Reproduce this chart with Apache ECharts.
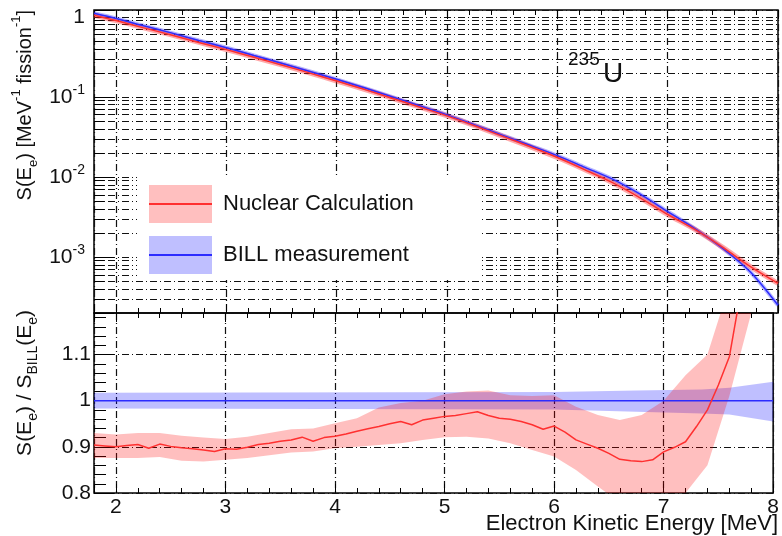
<!DOCTYPE html>
<html><head><meta charset="utf-8">
<script src="https://cdn.jsdelivr.net/npm/echarts@6/dist/echarts.min.js"></script>
<style>html,body{margin:0;padding:0;background:#fff}#c{width:782px;height:536px}</style>
</head><body><div id="c"></div>
<script>
// ---------- data ----------
const energyTop = [1.8,2.0,2.25,2.5,2.75,3.0,3.25,3.5,3.75,4.0,4.25,4.5,4.75,5.0,5.25,5.5,5.75,6.0,6.25,6.5,6.75,7.0,7.25,7.5,7.75,8.0];
const specNuclear = [1.05,0.90,0.73,0.596,0.48,0.39,0.313,0.251,0.20,0.158,0.1245,0.0966,0.075,0.058,0.0437,0.0324,0.024,0.0175,0.0123,0.0085,0.0055,0.0034,0.0022,0.00132,0.00076,0.00047];
const specBill = [1.11,0.955,0.775,0.632,0.508,0.413,0.330,0.264,0.210,0.166,0.130,0.1005,0.0775,0.0597,0.0448,0.0334,0.0249,0.0185,0.0132,0.0094,0.0061,0.0037,0.00225,0.00128,0.00065,0.00025];

const ratioE = [1.8,1.9,2.0,2.1,2.2,2.3,2.4,2.5,2.6,2.7,2.8,2.9,3.0,3.1,3.2,3.3,3.4,3.5,3.6,3.7,3.8,3.9,4.0,4.1,4.2,4.3,4.4,4.5,4.6,4.7,4.8,4.9,5.0,5.1,5.2,5.3,5.4,5.5,5.6,5.7,5.8,5.9,6.0,6.1,6.2,6.3,6.4,6.5,6.6,6.7,6.8,6.9,7.0,7.1,7.2,7.3,7.4,7.5,7.6,7.7];
const ratioNuclear = [0.904,0.902,0.900,0.903,0.905,0.897,0.906,0.901,0.898,0.896,0.893,0.890,0.896,0.895,0.899,0.905,0.908,0.912,0.915,0.921,0.912,0.920,0.923,0.928,0.934,0.939,0.944,0.950,0.955,0.948,0.958,0.962,0.966,0.968,0.972,0.976,0.968,0.962,0.960,0.955,0.948,0.938,0.945,0.932,0.915,0.906,0.897,0.886,0.873,0.870,0.868,0.872,0.889,0.899,0.911,0.944,0.980,1.034,1.095,1.230];

const nucBandE  = [1.8,2.0,2.2,2.4,2.6,2.8,3.0,3.2,3.4,3.6,3.8,4.0,4.2,4.4,4.6,4.8,5.0,5.2,5.4,5.6,5.8,6.0,6.2,6.4,6.6,6.8,7.0,7.2,7.4,7.6,7.8,7.9];
const nucBandHi = [0.930,0.927,0.930,0.930,0.924,0.920,0.917,0.922,0.930,0.938,0.940,0.951,0.962,0.985,0.995,1.000,1.014,1.020,1.022,1.012,1.010,1.012,0.987,0.969,0.958,0.969,1.000,1.055,1.100,1.250,1.300,1.300];
const nucBandLo = [0.876,0.876,0.876,0.878,0.870,0.868,0.872,0.876,0.882,0.888,0.890,0.897,0.900,0.904,0.908,0.915,0.921,0.922,0.918,0.908,0.893,0.879,0.850,0.814,0.780,0.770,0.770,0.800,0.860,1.010,1.190,1.300];

const billBandE  = [1.8,6.0,6.75,7.35,7.6,8.0];
const billBandHi = [1.017,1.019,1.022,1.024,1.028,1.041];
const billBandLo = [0.983,0.981,0.976,0.972,0.970,0.955];
const billRatioE = [1.8,8.0];
const billRatio  = [1.0,1.0];

const legendNames = ['Nuclear Calculation','BILL measurement'];

// ---------- style ----------
const FONT = '"Liberation Sans", Arial, Helvetica, sans-serif';
const INK = '#111';
const DASHDOT = [7,3,1,3];
const RED = '#ff3030', BLUE = '#2c2cff';
const RED_BAND = 'rgba(255,0,0,0.25)', BLUE_BAND = 'rgba(0,0,255,0.25)';

const isInt = v => Math.abs(v - Math.round(v)) < 1e-6;

function bandSeries(name, E, lo, hi, color) {
  return {
    type: 'custom', name, xAxisIndex: 1, yAxisIndex: 1, clip: true, silent: true, z: 2,
    itemStyle: {color},
    data: E.map((e, i) => [e, lo[i], hi[i]]),
    encode: {x: 0, y: [1, 2]},
    renderItem(params, api) {
      if (params.dataIndex !== 0) return null;
      const pts = [];
      for (let i = 0; i < E.length; i++) pts.push(api.coord([E[i], hi[i]]));
      for (let i = E.length - 1; i >= 0; i--) pts.push(api.coord([E[i], lo[i]]));
      return {type: 'polygon', shape: {points: pts}, style: {fill: color}};
    }
  };
}

const xBase = (grid, pos, labels) => ({
  type: 'value', gridIndex: grid, position: pos, min: 1.8, max: 8, splitNumber: 6,
  axisLine: {show: false},
  axisTick: {show: true, inside: true, length: 9, lineStyle: {color: '#000', width: 1}},
  minorTick: {show: true, splitNumber: 5, length: 5, lineStyle: {color: '#000', width: 1}},
  splitLine: {show: pos === 'bottom', lineStyle: {type: DASHDOT, color: INK, width: 1.2}},
  axisLabel: labels ? {show: true, margin: 4, fontSize: 21, fontFamily: FONT, color: INK,
    formatter: v => isInt(v) ? String(Math.round(v)) : ''} : {show: false}
});

const chart = echarts.init(document.getElementById('c'), null, {renderer: 'canvas'});
chart.setOption({
  animation: false,
  backgroundColor: '#fff',
  grid: [
    {left: 94, top: 10, width: 684, height: 303, show: true, borderColor: '#000', borderWidth: 1.5, backgroundColor: 'transparent'},
    {left: 94, top: 313, width: 684, height: 180, show: true, borderColor: '#000', borderWidth: 1.5, backgroundColor: 'transparent'}
  ],
  xAxis: [
    xBase(0, 'bottom', false),
    xBase(1, 'bottom', true),
    xBase(0, 'top', false),
    xBase(1, 'top', false)
  ],
  yAxis: [
    {
      type: 'log', gridIndex: 0, logBase: 10, min: 2e-4, max: 1.22,
      axisLine: {show: false},
      axisTick: {show: true, inside: true, length: 20, lineStyle: {color: '#000'}},
      minorTick: {show: true, splitNumber: 9, length: 10, lineStyle: {color: '#000'}},
      splitLine: {show: true, lineStyle: {type: DASHDOT, color: INK, width: 1}},
      minorSplitLine: {show: true, lineStyle: {type: DASHDOT, color: INK, width: 1}},
      axisLabel: {
        margin: 9, fontSize: 21, fontFamily: FONT, color: INK, lineHeight: 28,
        formatter: v => {
          const l = Math.log10(v), r = Math.round(l);
          if (Math.abs(l - r) > 1e-6) return '';
          return r === 0 ? '1' : '10{sup|' + r + '}';
        },
        rich: {sup: {fontSize: 14, fontFamily: FONT, color: INK, verticalAlign: 'top', lineHeight: 16}}
      }
    },
    {
      type: 'value', gridIndex: 1, min: 0.8, max: 1.19, interval: 0.1,
      axisLine: {show: false},
      axisTick: {show: true, inside: true, length: 20, lineStyle: {color: '#000'}},
      minorTick: {show: true, splitNumber: 5, length: 12, lineStyle: {color: '#000'}},
      splitLine: {show: true, lineStyle: {type: DASHDOT, color: INK, width: 1.2}},
      axisLabel: {
        margin: 3, fontSize: 21, fontFamily: FONT, color: INK,
        formatter: v => (Math.abs(v * 10 - Math.round(v * 10)) < 1e-6 && v < 1.15) ? String(+v.toFixed(1)) : ''
      }
    }
  ],
  legend: {
    left: 137, top: 177, orient: 'vertical', backgroundColor: '#fff',
    padding: [8, 67, 6, 12], itemWidth: 63, itemHeight: 38, itemGap: 13,
    icon: 'rect', selectedMode: false, z: 20,
    textStyle: {fontSize: 22, fontFamily: FONT, color: INK, padding: [0, 0, 0, 6]},
    data: [
      {name: legendNames[0], itemStyle: {color: RED_BAND}},
      {name: legendNames[1], itemStyle: {color: BLUE_BAND}}
    ]
  },
  graphic: [
    {type: 'line', z: 100, shape: {x1: 149, y1: 204, x2: 212, y2: 204}, style: {stroke: RED, lineWidth: 2}},
    {type: 'line', z: 100, shape: {x1: 149, y1: 255, x2: 212, y2: 255}, style: {stroke: BLUE, lineWidth: 2}},
    {type: 'text', z: 100, x: 568, y: 50, style: {text: '235', fontSize: 19, fontFamily: FONT, fill: INK, verticalAlign: 'top'}},
    {type: 'text', z: 100, x: 603, y: 88, style: {text: 'U', fontSize: 28, fontFamily: FONT, fill: INK, verticalAlign: 'bottom'}},
    {type: 'text', z: 100, x: 25, y: 10, rotation: Math.PI / 2,
      style: {text: 'S(E{sub|e}) [MeV{sup|-1} fission{sup|-1}]', fontSize: 20, fontFamily: FONT, fill: INK, align: 'right', verticalAlign: 'middle', lineHeight: 30,
        rich: {sup: {fontSize: 13, fontFamily: FONT, fill: INK, verticalAlign: 'top', lineHeight: 16}, sub: {fontSize: 13, fontFamily: FONT, fill: INK, verticalAlign: 'bottom', lineHeight: 16}}}},
    {type: 'text', z: 100, x: 25, y: 310, rotation: Math.PI / 2,
      style: {text: 'S(E{sub|e}) / S{sub|BILL}(E{sub|e})', fontSize: 21, fontFamily: FONT, fill: INK, align: 'right', verticalAlign: 'middle', lineHeight: 30,
        rich: {sub: {fontSize: 14, fontFamily: FONT, fill: INK, verticalAlign: 'bottom', lineHeight: 16}}}},
    {type: 'text', z: 100, x: 778, y: 524, style: {text: 'Electron Kinetic Energy [MeV]', fontSize: 22, fontFamily: FONT, fill: INK, align: 'right', verticalAlign: 'middle'}}
  ],
  series: [
    {type: 'line', name: 'BILL spectrum band', xAxisIndex: 0, yAxisIndex: 0, showSymbol: false, smooth: 0.3, silent: true,
      data: energyTop.map((e, i) => [e, specBill[i]]), lineStyle: {color: 'rgba(40,40,255,0.35)', width: 4}},
    {type: 'line', name: 'Nuclear spectrum band', xAxisIndex: 0, yAxisIndex: 0, showSymbol: false, smooth: 0.3, silent: true,
      data: energyTop.map((e, i) => [e, specNuclear[i]]), lineStyle: {color: 'rgba(255,40,40,0.4)', width: 5}},
    {type: 'line', name: 'BILL spectrum', xAxisIndex: 0, yAxisIndex: 0, showSymbol: false, smooth: 0.3, silent: true,
      data: energyTop.map((e, i) => [e, specBill[i]]), lineStyle: {color: BLUE, width: 1.5}},
    {type: 'line', name: 'Nuclear spectrum', xAxisIndex: 0, yAxisIndex: 0, showSymbol: false, smooth: 0.3, silent: true,
      data: energyTop.map((e, i) => [e, specNuclear[i]]), lineStyle: {color: RED, width: 1.5}},
    bandSeries(legendNames[1], billBandE, billBandLo, billBandHi, BLUE_BAND),
    bandSeries(legendNames[0], nucBandE, nucBandLo, nucBandHi, RED_BAND),
    {type: 'line', name: 'BILL ratio', xAxisIndex: 1, yAxisIndex: 1, showSymbol: false, silent: true,
      data: billRatioE.map((e, i) => [e, billRatio[i]]), lineStyle: {color: BLUE, width: 1.5}},
    {type: 'line', name: 'Nuclear ratio', xAxisIndex: 1, yAxisIndex: 1, showSymbol: false, silent: true,
      data: ratioE.map((e, i) => [e, ratioNuclear[i]]), lineStyle: {color: RED, width: 1.5}}
  ]
});
</script>
</body></html>
